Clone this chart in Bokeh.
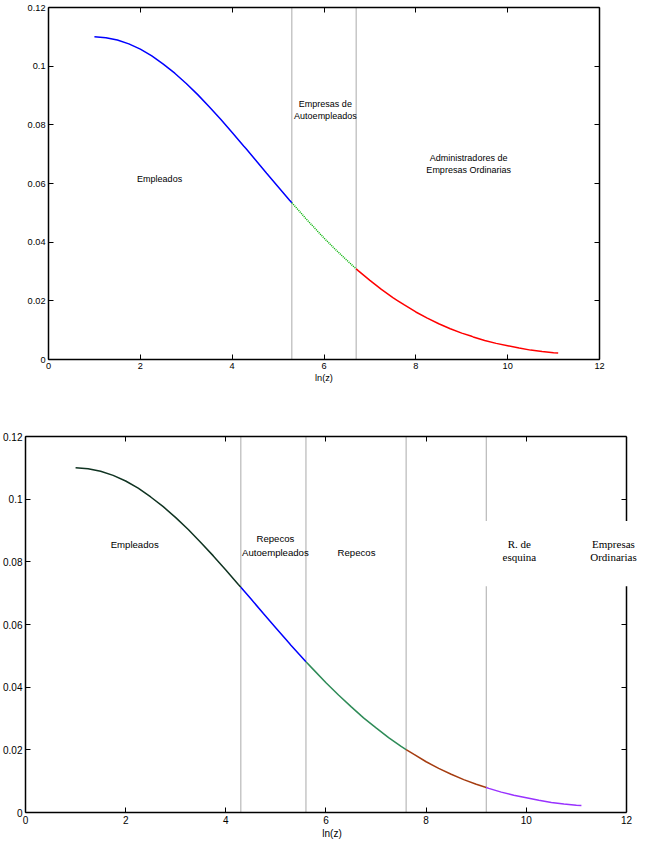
from bokeh.plotting import figure
from bokeh.layouts import column, row
from bokeh.models import LinearAxis, FixedTicker, Label, CustomLabelingPolicy, Spacer
from bokeh.embed import file_html
from bokeh.resources import INLINE

# ---- data ----
ln_z = [1.00, 1.25, 1.50, 1.75, 2.00, 2.25, 2.50, 2.75, 3.00, 3.25,
        3.50, 3.75, 4.00, 4.25, 4.30, 4.50, 4.75, 5.00, 5.25, 5.30,
        5.50, 5.60, 5.75, 6.00, 6.25, 6.50, 6.70, 6.75, 7.00, 7.25,
        7.50, 7.60, 7.75, 8.00, 8.25, 8.50, 8.75, 9.00, 9.20, 9.25,
        9.50, 9.75, 10.00, 10.25, 10.50, 10.75, 11.00, 11.10]
density = [0.1100, 0.1097, 0.1089, 0.1076, 0.1058, 0.1035, 0.1007, 0.0976, 0.0941, 0.0903,
           0.0862, 0.0819, 0.0774, 0.0728, 0.0719, 0.0682, 0.0635, 0.0589, 0.0543, 0.0534,
           0.0499, 0.0481, 0.0456, 0.0414, 0.0375, 0.0338, 0.0309, 0.0302, 0.0270, 0.0239,
           0.0211, 0.0201, 0.0186, 0.0162, 0.0141, 0.0122, 0.0105, 0.0090, 0.0080, 0.0077,
           0.0065, 0.0055, 0.0047, 0.0039, 0.0032, 0.0027, 0.0023, 0.0022]

top_bounds = [5.3, 6.7]
top_colors = ["#0000ff", "#00b000", "#ff0000"]
top_dashes = ["solid", "1 1", "solid"]

bottom_bounds = [4.3, 5.6, 7.6, 9.2]
bottom_colors = ["#0f3321", "#0000ff", "#2e8b57", "#a53c10", "#9932ff"]

x_ticks = [0, 2, 4, 6, 8, 10, 12]
y_ticks = [0, 0.02, 0.04, 0.06, 0.08, 0.1, 0.12]
y_tick_labels = ["0", "0.02", "0.04", "0.06", "0.08", "0.1", "0.12"]
x_label = "ln(z)"

top_texts = [("Empleados", 2.42, 0.0617),
             ("Empresas de\nAutoempleados", 6.03, 0.0851),
             ("Administradores de\nEmpresas Ordinarias", 9.15, 0.0665)]
bottom_texts = [("Empleados", 2.18, 0.0855),
                ("Repecos\nAutoempleados", 4.99, 0.0852),
                ("Repecos", 6.61, 0.0829)]
bottom_serif_texts = [("R. de\nesquina", 9.86, 0.0826, 20),
                      ("Empresas\nOrdinarias", 11.74, 0.0826, 2)]

X_MAX = 12
X_VIEW_BOTTOM = 12.24   # frame of lower chart runs a little past the right border line


def split(xs, ys, bounds):
    edges = [xs[0]] + bounds + [xs[-1]]
    parts = []
    for lo, hi in zip(edges[:-1], edges[1:]):
        px = [x for x in xs if lo - 1e-9 <= x <= hi + 1e-9]
        py = [y for x, y in zip(xs, ys) if lo - 1e-9 <= x <= hi + 1e-9]
        parts.append((px, py))
    return parts


def style_axis(ax, ticks, fs, show_labels=True):
    ax.ticker = FixedTicker(ticks=ticks)
    ax.major_tick_in = 5
    ax.major_tick_out = 0
    ax.minor_tick_line_color = None
    ax.axis_line_width = 1.5
    ax.axis_line_color = "black"
    ax.major_tick_line_color = "black"
    ax.major_tick_line_width = 1
    ax.major_label_text_font = "Liberation Sans"
    ax.major_label_text_color = "black"
    if show_labels:
        ax.major_label_text_font_size = fs
        ax.major_label_standoff = 3
    else:
        ax.major_label_text_font_size = "0px"
        ax.major_label_standoff = 0
        ax.major_label_policy = CustomLabelingPolicy(code="return []")


def make_fig(fw, fh, left, right, top, bottom, fs, x_end, fs_label):
    p = figure(frame_width=fw, frame_height=fh, x_range=(0, x_end), y_range=(0, 0.12),
               output_backend="svg", toolbar_location=None,
               min_border_left=left, min_border_right=right,
               min_border_top=top, min_border_bottom=bottom)
    p.grid.visible = False
    p.outline_line_color = None
    p.background_fill_color = "white"
    p.border_fill_color = "white"
    ax_below = p.xaxis[0]
    style_axis(ax_below, x_ticks, fs)
    ax_below.bounds = (0, X_MAX)
    ax_below.axis_label = x_label
    ax_below.axis_label_text_font = "Liberation Sans"
    ax_below.axis_label_text_font_size = fs_label
    ax_below.axis_label_text_font_style = "normal"
    ax_below.axis_label_text_color = "black"
    ax_below.axis_label_standoff = 1
    style_axis(p.yaxis[0], y_ticks, fs)
    p.yaxis[0].major_label_overrides = {t: l for t, l in zip(y_ticks, y_tick_labels)}
    ax_top = LinearAxis(bounds=(0, X_MAX))
    style_axis(ax_top, x_ticks, fs, show_labels=False)
    p.add_layout(ax_top, "above")
    ax_right = LinearAxis()
    style_axis(ax_right, y_ticks, fs, show_labels=False)
    if x_end != X_MAX:
        ax_right.fixed_location = X_MAX
    p.add_layout(ax_right, "right")
    return p


# ---------------- top chart ----------------
p1 = make_fig(551, 352, 24, 20, 7, 40, "9.2px", X_MAX, "9.2px")

for b in top_bounds:
    p1.segment(x0=[b], y0=[0], x1=[b], y1=[0.12], line_color="#aaaaaa", line_width=1)
for (px, py), c, d in zip(split(ln_z, density, top_bounds), top_colors, top_dashes):
    p1.line(px, py, line_color=c, line_width=1.5, line_dash=d)
for t, x, y in top_texts:
    p1.add_layout(Label(x=x, y=y, text=t, text_align="center", text_baseline="middle",
                        text_font="Liberation Sans", text_font_size="9px",
                        text_color="black", text_line_height=1.2))

# ---------------- bottom chart ----------------
p2 = make_fig(613, 376, 24, 0, 37, 28, "10px", X_VIEW_BOTTOM, "10px")

for b in bottom_bounds:
    p2.segment(x0=[b], y0=[0], x1=[b], y1=[0.12], line_color="#aaaaaa", line_width=1)
for (px, py), c in zip(split(ln_z, density, bottom_bounds), bottom_colors):
    p2.line(px, py, line_color=c, line_width=1.5)
for t, x, y in bottom_texts:
    p2.add_layout(Label(x=x, y=y, text=t, text_align="center", text_baseline="middle",
                        text_font="Liberation Sans", text_font_size="9.6px",
                        text_color="black", text_line_height=1.25))
for t, x, y, hp in bottom_serif_texts:
    p2.add_layout(Label(x=x, y=y, text=t, text_align="center", text_baseline="middle",
                        text_font="Liberation Serif", text_font_size="11px",
                        text_color="black", text_line_height=1.1,
                        background_fill_color="white",
                        padding=dict(left=hp, right=hp, top=17, bottom=23)))

layout = column(row(Spacer(width=24, height=10), p1, spacing=0), p2, spacing=0)
open("out.html", "w").write(file_html(layout, INLINE))
